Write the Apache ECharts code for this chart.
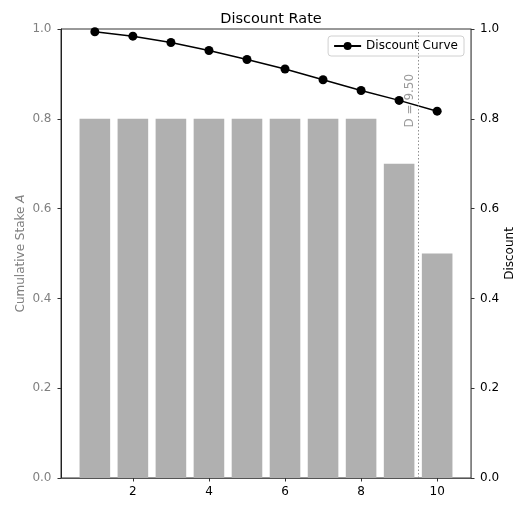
<!DOCTYPE html>
<html>
<head>
<meta charset="utf-8">
<script src="https://cdn.jsdelivr.net/npm/echarts@6/dist/echarts.min.js"></script>
<style>html,body{margin:0;padding:0;background:#fff}#c{width:518px;height:518px}</style>
</head>
<body>
<div id="c"></div>
<script>
var positions = [1, 2, 3, 4, 5, 6, 7, 8, 9, 10];
var stakeValues = [0.8, 0.8, 0.8, 0.8, 0.8, 0.8, 0.8, 0.8, 0.7, 0.5];
var discountValues = [0.994, 0.984, 0.970, 0.952, 0.932, 0.911, 0.887, 0.863, 0.841, 0.817];
var xTicks = [2, 4, 6, 8, 10];
var yTicks = [0, 0.2, 0.4, 0.6, 0.8, 1.0];
var cutoff = 9.5;
var cutoffLabelY = 0.9;
var xRange = [0.11, 10.89];

var font = 'DejaVu Sans';
var fs = 12;
var chart = echarts.init(document.getElementById('c'), null, {renderer: 'canvas'});
var barData = positions.map(function (p, i) { return [p, stakeValues[i]]; });
var lineData = positions.map(function (p, i) { return [p, discountValues[i]]; });

chart.setOption({
  animation: false,
  textStyle: {fontFamily: font},
  title: {
    text: 'Discount Rate', left: 266, textAlign: 'center', top: 7,
    textStyle: {fontFamily: font, fontSize: 14.5, fontWeight: 'normal', color: '#000'}
  },
  legend: {
    data: ['Discount Curve'], right: 54, top: 36,
    backgroundColor: '#fff', borderColor: '#d0d0d0', borderWidth: 1, borderRadius: 3,
    padding: [4, 6, 4, 5], itemWidth: 27, itemHeight: 10, itemGap: 8,
    textStyle: {fontFamily: font, fontSize: fs, color: '#000'}
  },
  grid: {left: 61, right: 47, top: 29, bottom: 40, outerBoundsMode: 'none', containLabel: false,
    show: true, borderColor: '#333', borderWidth: 1, backgroundColor: 'transparent'},
  xAxis: {
    type: 'value', min: xRange[0], max: xRange[1], splitLine: {show: false},
    axisLine: {lineStyle: {color: '#555', width: 1}},
    axisTick: {customValues: xTicks, length: 3.5, lineStyle: {color: '#333'}},
    axisLabel: {customValues: xTicks, fontFamily: font, fontSize: fs, color: '#000', margin: 8}
  },
  yAxis: [{
    type: 'value', min: 0, max: 1, interval: 0.2, position: 'left', splitLine: {show: false},
    axisLine: {show: true, lineStyle: {color: '#222', width: 1}},
    axisTick: {show: true, length: 3.5, lineStyle: {color: '#333'}},
    axisLabel: {fontFamily: font, fontSize: fs, color: '#808080', margin: 9.5,
      formatter: function (v) { return v.toFixed(1); }},
    name: '{n|Cumulative Stake }{i|A}', nameLocation: 'middle', nameGap: 34, nameRotate: 90,
    nameMoveOverlap: false,
    nameTextStyle: {rich: {
      n: {fontFamily: font, fontSize: fs, color: '#808080'},
      i: {fontFamily: font, fontSize: fs, color: '#808080', fontStyle: 'italic'}
    }}
  }, {
    type: 'value', min: 0, max: 1, interval: 0.2, position: 'right', splitLine: {show: false},
    axisLine: {show: true, lineStyle: {color: '#808080', width: 1}},
    axisTick: {show: true, length: 3.5, lineStyle: {color: '#333'}},
    axisLabel: {fontFamily: font, fontSize: fs, color: '#000', margin: 9,
      formatter: function (v) { return v.toFixed(1); }},
    name: 'Discount', nameLocation: 'middle', nameGap: 33, nameRotate: 90,
    nameMoveOverlap: false,
    nameTextStyle: {fontFamily: font, fontSize: fs, color: '#000'}
  }],
  series: [{
    name: 'Stake', type: 'bar', xAxisIndex: 0, yAxisIndex: 0, data: barData,
    barWidth: 30.6, itemStyle: {color: '#b0b0b0'}, z: 1,
    markLine: {
      silent: true, symbol: 'none', label: {show: false},
      lineStyle: {type: [1.5, 2], color: '#909090', width: 1},
      data: [{xAxis: cutoff}]
    }
  }, {
    name: 'cutoffLabel', type: 'scatter', xAxisIndex: 0, yAxisIndex: 0,
    data: [[cutoff, cutoffLabelY]], symbolSize: 0, silent: true, z: 3,
    label: {show: true, position: [-2, 0], rotate: 90, align: 'right', verticalAlign: 'bottom',
      formatter: 'D = 9.50', fontFamily: font, fontSize: fs, color: '#808080'}
  }, {
    name: 'Discount Curve', type: 'line', xAxisIndex: 0, yAxisIndex: 1, data: lineData,
    symbol: 'circle', symbolSize: 9, z: 4,
    lineStyle: {color: '#000', width: 1.5}, itemStyle: {color: '#000'}
  }]
});
</script>
</body>
</html>
